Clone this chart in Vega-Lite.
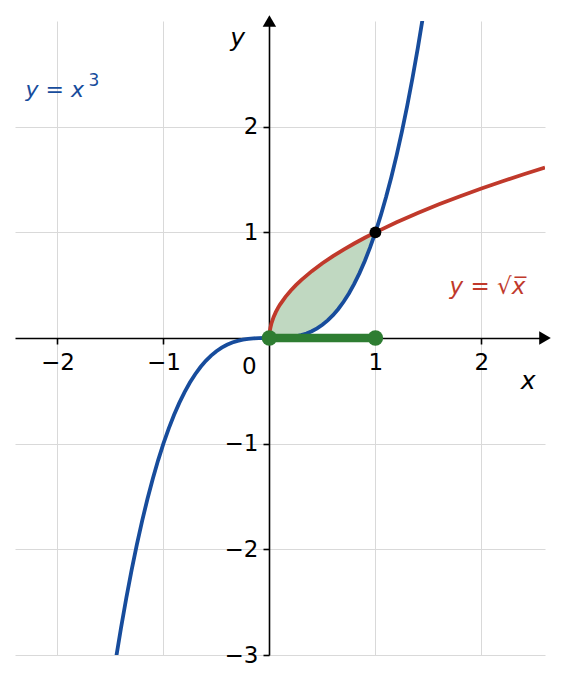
{
  "$schema": "https://vega.github.io/schema/vega-lite/v6.json",
  "width": 530,
  "height": 634,
  "autosize": "none",
  "padding": {"left": 15, "top": 21, "right": 20, "bottom": 30},
  "background": "white",
  "config": {
    "view": {"stroke": null},
    "font": "DejaVu Sans",
    "axis": {
      "title": null,
      "format": "d",
      "domainColor": "black",
      "domainWidth": 1.6,
      "tickColor": "black",
      "tickWidth": 1.6,
      "tickSize": 6,
      "labelFont": "DejaVu Sans",
      "labelFontSize": 23,
      "labelColor": "black",
      "labelFlush": false,
      "labelOverlap": false,
      "gridColor": "#d9d9d9",
      "gridWidth": 1
    }
  },
  "datasets": {
    "cube_curve": [
      {"x": -1.45, "y": -3.0486}, {"x": -1.4, "y": -2.744}, {"x": -1.35, "y": -2.4604},
      {"x": -1.3, "y": -2.197}, {"x": -1.25, "y": -1.9531}, {"x": -1.2, "y": -1.728},
      {"x": -1.15, "y": -1.5209}, {"x": -1.1, "y": -1.331}, {"x": -1.05, "y": -1.1576},
      {"x": -1.0, "y": -1.0}, {"x": -0.95, "y": -0.8574}, {"x": -0.9, "y": -0.729},
      {"x": -0.85, "y": -0.6141}, {"x": -0.8, "y": -0.512}, {"x": -0.75, "y": -0.4219},
      {"x": -0.7, "y": -0.343}, {"x": -0.65, "y": -0.2746}, {"x": -0.6, "y": -0.216},
      {"x": -0.55, "y": -0.1664}, {"x": -0.5, "y": -0.125}, {"x": -0.45, "y": -0.0911},
      {"x": -0.4, "y": -0.064}, {"x": -0.35, "y": -0.0429}, {"x": -0.3, "y": -0.027},
      {"x": -0.25, "y": -0.0156}, {"x": -0.2, "y": -0.008}, {"x": -0.15, "y": -0.0034},
      {"x": -0.1, "y": -0.001}, {"x": -0.05, "y": -0.0001}, {"x": 0.0, "y": 0.0},
      {"x": 0.05, "y": 0.0001}, {"x": 0.1, "y": 0.001}, {"x": 0.15, "y": 0.0034},
      {"x": 0.2, "y": 0.008}, {"x": 0.25, "y": 0.0156}, {"x": 0.3, "y": 0.027},
      {"x": 0.35, "y": 0.0429}, {"x": 0.4, "y": 0.064}, {"x": 0.45, "y": 0.0911},
      {"x": 0.5, "y": 0.125}, {"x": 0.55, "y": 0.1664}, {"x": 0.6, "y": 0.216},
      {"x": 0.65, "y": 0.2746}, {"x": 0.7, "y": 0.343}, {"x": 0.75, "y": 0.4219},
      {"x": 0.8, "y": 0.512}, {"x": 0.85, "y": 0.6141}, {"x": 0.9, "y": 0.729},
      {"x": 0.95, "y": 0.8574}, {"x": 1.0, "y": 1.0}, {"x": 1.05, "y": 1.1576},
      {"x": 1.1, "y": 1.331}, {"x": 1.15, "y": 1.5209}, {"x": 1.2, "y": 1.728},
      {"x": 1.25, "y": 1.9531}, {"x": 1.3, "y": 2.197}, {"x": 1.35, "y": 2.4604},
      {"x": 1.4, "y": 2.744}, {"x": 1.45, "y": 3.0486}
    ],
    "sqrt_curve": [
      {"x": 0.0, "y": 0.0}, {"x": 0.002, "y": 0.0447}, {"x": 0.005, "y": 0.0707},
      {"x": 0.01, "y": 0.1}, {"x": 0.02, "y": 0.1414}, {"x": 0.04, "y": 0.2},
      {"x": 0.06, "y": 0.2449}, {"x": 0.08, "y": 0.2828}, {"x": 0.1, "y": 0.3162},
      {"x": 0.15, "y": 0.3873}, {"x": 0.2, "y": 0.4472}, {"x": 0.25, "y": 0.5},
      {"x": 0.3, "y": 0.5477}, {"x": 0.4, "y": 0.6325}, {"x": 0.5, "y": 0.7071},
      {"x": 0.6, "y": 0.7746}, {"x": 0.7, "y": 0.8367}, {"x": 0.8, "y": 0.8944},
      {"x": 0.9, "y": 0.9487}, {"x": 1.0, "y": 1.0}, {"x": 1.2, "y": 1.0954},
      {"x": 1.4, "y": 1.1832}, {"x": 1.6, "y": 1.2649}, {"x": 1.8, "y": 1.3416},
      {"x": 2.0, "y": 1.4142}, {"x": 2.2, "y": 1.4832}, {"x": 2.4, "y": 1.5492},
      {"x": 2.6, "y": 1.6125}
    ],
    "region": [
      {"x": 0.0, "lo": 0.0, "hi": 0.0}, {"x": 0.002, "lo": 0.0, "hi": 0.0447},
      {"x": 0.005, "lo": 0.0, "hi": 0.0707}, {"x": 0.01, "lo": 0.0, "hi": 0.1},
      {"x": 0.02, "lo": 0.0, "hi": 0.1414}, {"x": 0.04, "lo": 0.0001, "hi": 0.2},
      {"x": 0.06, "lo": 0.0002, "hi": 0.2449}, {"x": 0.08, "lo": 0.0005, "hi": 0.2828},
      {"x": 0.1, "lo": 0.001, "hi": 0.3162}, {"x": 0.15, "lo": 0.0034, "hi": 0.3873},
      {"x": 0.2, "lo": 0.008, "hi": 0.4472}, {"x": 0.25, "lo": 0.0156, "hi": 0.5},
      {"x": 0.3, "lo": 0.027, "hi": 0.5477}, {"x": 0.35, "lo": 0.0429, "hi": 0.5916},
      {"x": 0.4, "lo": 0.064, "hi": 0.6325}, {"x": 0.45, "lo": 0.0911, "hi": 0.6708},
      {"x": 0.5, "lo": 0.125, "hi": 0.7071}, {"x": 0.55, "lo": 0.1664, "hi": 0.7416},
      {"x": 0.6, "lo": 0.216, "hi": 0.7746}, {"x": 0.65, "lo": 0.2746, "hi": 0.8062},
      {"x": 0.7, "lo": 0.343, "hi": 0.8367}, {"x": 0.75, "lo": 0.4219, "hi": 0.866},
      {"x": 0.8, "lo": 0.512, "hi": 0.8944}, {"x": 0.85, "lo": 0.6141, "hi": 0.922},
      {"x": 0.9, "lo": 0.729, "hi": 0.9487}, {"x": 0.95, "lo": 0.8574, "hi": 0.9747},
      {"x": 1.0, "lo": 1.0, "hi": 1.0}
    ],
    "segment": [{"x": 0, "y": 0}, {"x": 1, "y": 0}],
    "intersection": [{"x": 1, "y": 1}],
    "arrow_x": [{"x": 2.6, "y": 0}],
    "arrow_y": [{"x": 0, "y": 3}],
    "label_cube": [{"x": -2.3, "y": 2.35, "text": "y = x", "power": "3"}],
    "label_sqrt": [{"x": 1.7, "y": 0.48, "text": "y = √x̅"}],
    "axis_names": [{"x": -0.3, "y": 2.84, "text": "y"}, {"x": 2.44, "y": -0.41, "text": "x"}],
    "origin_label": [{"x": -0.19, "y": -0.27, "text": "0"}]
  },
  "layer": [
    {
      "data": {"name": "region"},
      "mark": {"type": "area", "color": "#2e7d32", "opacity": 0.3, "orient": "vertical"},
      "encoding": {
        "x": {
          "field": "x", "type": "quantitative",
          "scale": {"domain": [-2.4, 2.6], "nice": false, "zero": false},
          "axis": {"values": [-2, -1, 1, 2], "offset": -317, "labelPadding": 7}
        },
        "y": {
          "field": "lo", "type": "quantitative",
          "scale": {"domain": [-3, 3], "nice": false, "zero": false},
          "axis": {"values": [-3, -2, -1, 1, 2], "offset": -254, "labelPadding": 5}
        },
        "y2": {"field": "hi"}
      }
    },
    {
      "data": {"name": "cube_curve"},
      "mark": {"type": "line", "color": "#174c9c", "strokeWidth": 3.8, "clip": true},
      "encoding": {
        "x": {"field": "x", "type": "quantitative"},
        "y": {"field": "y", "type": "quantitative"}
      }
    },
    {
      "data": {"name": "sqrt_curve"},
      "mark": {"type": "line", "color": "#c0392b", "strokeWidth": 3.8, "clip": true},
      "encoding": {
        "x": {"field": "x", "type": "quantitative"},
        "y": {"field": "y", "type": "quantitative"}
      }
    },
    {
      "data": {"name": "segment"},
      "mark": {"type": "line", "color": "#2e7d32", "strokeWidth": 8.5, "strokeCap": "butt"},
      "encoding": {
        "x": {"field": "x", "type": "quantitative"},
        "y": {"field": "y", "type": "quantitative"}
      }
    },
    {
      "data": {"name": "segment"},
      "mark": {"type": "circle", "color": "#2e7d32", "size": 240, "opacity": 1},
      "encoding": {
        "x": {"field": "x", "type": "quantitative"},
        "y": {"field": "y", "type": "quantitative"}
      }
    },
    {
      "data": {"name": "intersection"},
      "mark": {"type": "circle", "color": "black", "size": 140, "opacity": 1},
      "encoding": {
        "x": {"field": "x", "type": "quantitative"},
        "y": {"field": "y", "type": "quantitative"}
      }
    },
    {
      "data": {"name": "arrow_x"},
      "mark": {"type": "point", "shape": "triangle-right", "filled": true, "color": "black", "size": 180, "opacity": 1},
      "encoding": {
        "x": {"field": "x", "type": "quantitative"},
        "y": {"field": "y", "type": "quantitative"}
      }
    },
    {
      "data": {"name": "arrow_y"},
      "mark": {"type": "point", "shape": "triangle-up", "filled": true, "color": "black", "size": 180, "opacity": 1},
      "encoding": {
        "x": {"field": "x", "type": "quantitative"},
        "y": {"field": "y", "type": "quantitative"}
      }
    },
    {
      "data": {"name": "label_cube"},
      "mark": {"type": "text", "color": "#174c9c", "fontSize": 22, "fontStyle": "italic", "align": "left", "baseline": "middle"},
      "encoding": {
        "x": {"field": "x", "type": "quantitative"},
        "y": {"field": "y", "type": "quantitative"},
        "text": {"field": "text"}
      }
    },
    {
      "data": {"name": "label_cube"},
      "mark": {"type": "text", "color": "#174c9c", "fontSize": 17, "align": "left", "baseline": "middle", "dx": 63, "dy": -9},
      "encoding": {
        "x": {"field": "x", "type": "quantitative"},
        "y": {"field": "y", "type": "quantitative"},
        "text": {"field": "power"}
      }
    },
    {
      "data": {"name": "label_sqrt"},
      "mark": {"type": "text", "color": "#c0392b", "fontSize": 23, "fontStyle": "italic", "align": "left", "baseline": "middle"},
      "encoding": {
        "x": {"field": "x", "type": "quantitative"},
        "y": {"field": "y", "type": "quantitative"},
        "text": {"field": "text"}
      }
    },
    {
      "data": {"name": "axis_names"},
      "mark": {"type": "text", "color": "black", "fontSize": 25, "fontStyle": "italic", "align": "center", "baseline": "middle"},
      "encoding": {
        "x": {"field": "x", "type": "quantitative"},
        "y": {"field": "y", "type": "quantitative"},
        "text": {"field": "text"}
      }
    },
    {
      "data": {"name": "origin_label"},
      "mark": {"type": "text", "color": "black", "fontSize": 23, "align": "center", "baseline": "middle"},
      "encoding": {
        "x": {"field": "x", "type": "quantitative"},
        "y": {"field": "y", "type": "quantitative"},
        "text": {"field": "text"}
      }
    }
  ]
}
